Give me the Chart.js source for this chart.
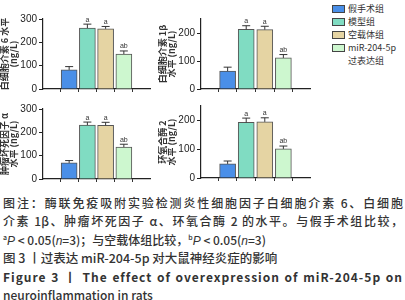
<!DOCTYPE html>
<html>
<head>
<meta charset="utf-8">
<script src="https://cdn.jsdelivr.net/npm/chart.js@4.4.1/dist/chart.umd.min.js"></script>
<style>
  html, body { margin: 0; padding: 0; background: #fff; }
  #page { position: relative; width: 405px; height: 300px; overflow: hidden; background: #fff; }
  .plot { position: absolute; }
  .legend { position: absolute; left: 332px; top: 2px; font-family: "Noto Sans CJK SC", sans-serif; font-size: 9px; color: #333; }
  .legend .row { display: flex; align-items: center; height: 13px; }
  .legend .box { width: 13px; height: 8px; border: 1px solid #444; margin-right: 3px; box-sizing: border-box; }
  .cap { position: absolute; left: 3px; width: 400px; font-family: "Noto Sans CJK SC", sans-serif; font-size: 12px; color: #333; white-space: nowrap; line-height: 14px; font-weight: 500; }
  .just { text-align: justify; text-align-last: justify; }
  .lat { font-family: "Liberation Sans", Arial, sans-serif; }
</style>
</head>
<body>
<div id="page">
  <canvas id="c1" class="plot"></canvas>
  <canvas id="c2" class="plot"></canvas>
  <canvas id="c3" class="plot"></canvas>
  <canvas id="c4" class="plot"></canvas>
  <div class="legend" id="legend"></div>
  <div class="cap just" style="top:196px">图注：酶联免疫吸附实验检测炎性细胞因子白细胞介素 6、白细胞</div>
  <div class="cap just" style="top:214px">介素 1β、肿瘤坏死因子 α、环氧合酶 2 的水平。与假手术组比较，</div>
  <div class="cap" style="top:230px"><sup style="font-size:7px">a</sup><i class="lat">P</i> &lt; 0.05(<i class="lat">n</i>=3)；与空载体组比较，<sup style="font-size:7px">b</sup><i class="lat">P</i> &lt; 0.05(<i class="lat">n</i>=3)</div>
  <div class="cap" style="top:251px;font-size:12.5px">图 3 丨过表达 miR-204-5p 对大鼠神经炎症的影响</div>
  <div class="cap just" style="top:270px;font-weight:bold;letter-spacing:1px">Figure 3 丨 The effect of overexpression of miR-204-5p on</div>
  <div class="cap" style="top:288px">neuroinflammation in rats</div>
</div>
<script>
const groups = ['假手术组', '模型组', '空载体组', 'miR-204-5p 过表达组'];
const groupColors = ['#4a8fe8', '#80dcc2', '#e5d4a3', '#cdf7cf'];
const sigLabels = ['', 'a', 'a', 'ab'];

// 白细胞介素 6
const il6 = [82, 261, 258, 150];
const il6Err = [14, 17, 10, 13];
// 白细胞介素 1β
const il1b = [64, 213, 212, 111];
const il1bErr = [14, 13, 12, 12];
// 肿瘤坏死因子 α
const tnfa = [69, 231, 230, 137];
const tnfaErr = [10, 13, 13, 12];
// 环氧合酶 2
const cox2 = [49, 193, 195, 101];
const cox2Err = [10, 15, 14, 10];

Chart.defaults.font.family = "'Liberation Sans', Arial, sans-serif";
Chart.defaults.color = '#222';

const errorBars = {
  id: 'errorBars',
  afterDatasetsDraw(chart) {
    const ctx = chart.ctx;
    const y = chart.scales.y;
    const ds = chart.data.datasets[0];
    const meta = chart.getDatasetMeta(0);
    ctx.save();
    ctx.strokeStyle = '#333';
    ctx.fillStyle = '#333';
    ctx.lineWidth = 1;
    ctx.font = '7px "Liberation Sans", Arial';
    ctx.textAlign = 'center';
    ctx.textBaseline = 'bottom';
    meta.data.forEach((bar, i) => {
      const top = y.getPixelForValue(ds.data[i].y + ds.errors[i]);
      ctx.beginPath();
      ctx.moveTo(bar.x, bar.y);
      ctx.lineTo(bar.x, top);
      ctx.moveTo(bar.x - 4, top);
      ctx.lineTo(bar.x + 4, top);
      ctx.stroke();
      if (ds.sig[i]) ctx.fillText(ds.sig[i], bar.x, top - 1);
    });
    ctx.restore();
  }
};

function makeChart(id, left, top, width, values, errors, yMax, yStep, title, padTop, xHeight) {
  const canvas = document.getElementById(id);
  canvas.style.left = left + 'px';
  canvas.style.top = top + 'px';
  canvas.width = width;
  canvas.height = 100;
  canvas.style.width = width + 'px';
  canvas.style.height = '100px';
  return new Chart(canvas.getContext('2d'), {
    type: 'bar',
    data: {
      datasets: [{
        data: values.map((v, i) => ({ x: i + 1, y: v })),
        errors: errors,
        sig: sigLabels,
        backgroundColor: groupColors,
        borderColor: '#555',
        borderWidth: 1,
        barThickness: 16
      }]
    },
    options: {
      responsive: false,
      animation: false,
      layout: { padding: { top: padTop, right: 5, left: 0, bottom: 0 } },
      plugins: { legend: { display: false }, tooltip: { enabled: false } },
      scales: {
        x: {
          type: 'linear',
          min: 0.3,
          max: 4.7,
          afterBuildTicks: s => { s.ticks = [1, 2, 3, 4].map(v => ({ value: v })); },
          afterFit: s => { s.height = xHeight; },
          ticks: { display: false },
          grid: { drawOnChartArea: false, drawTicks: true, tickLength: 3, color: '#333' },
          border: { color: '#222', width: 1.2 }
        },
        y: {
          min: 0,
          max: yMax,
          afterFit: s => { s.width = 43; },
          ticks: { stepSize: yStep, padding: 2, font: { size: 10 } },
          grid: { drawOnChartArea: false, drawTicks: true, tickLength: 4, color: '#222' },
          border: { color: '#222', width: 1.2 },
          title: {
            display: true,
            text: title,
            padding: { top: 0, bottom: 1 },
            font: { family: "'Noto Sans CJK SC'", size: 9, weight: 'bold', lineHeight: 1.0 },
            color: '#333'
          }
        }
      }
    },
    plugins: [errorBars]
  });
}

makeChart('c1', 0, 0, 155, il6, il6Err, 300, 100, ['白细胞介素 6 水平', '(ng/L)'], 19, 11);
makeChart('c2', 158, 0, 157, il1b, il1bErr, 250, 50, ['白细胞介素 1β', '水平 (ng/L)'], 19, 11);
makeChart('c3', 0, 90, 155, tnfa, tnfaErr, 300, 100, ['肿瘤坏死因子 α', '水平 (ng/L)'], 19, 11);
makeChart('c4', 158, 90, 157, cox2, cox2Err, 250, 50, ['环氧合酶 2', '水平 (ng/L)'], 16, 12);

const legend = document.getElementById('legend');
groups.forEach((g, i) => {
  const row = document.createElement('div');
  row.className = 'row';
  const parts = g.split(' ');
  row.innerHTML = '<span class="box" style="background:' + groupColors[i] + '"></span><span>' + parts[0] + '</span>';
  legend.appendChild(row);
  if (parts.length > 1) {
    const row2 = document.createElement('div');
    row2.className = 'row';
    row2.innerHTML = '<span style="width:16px"></span><span>' + parts[1] + '</span>';
    legend.appendChild(row2);
  }
});
</script>
</body>
</html>
